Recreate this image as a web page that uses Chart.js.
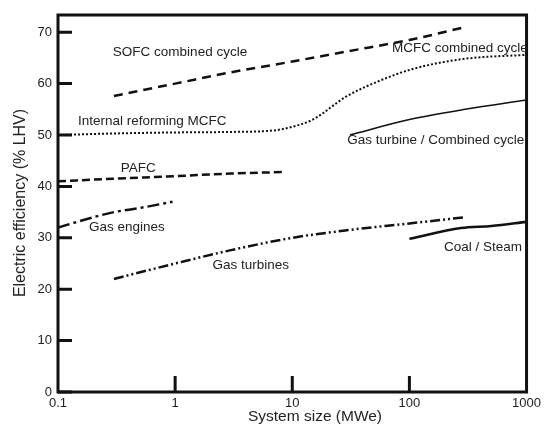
<!DOCTYPE html>
<html>
<head>
<meta charset="utf-8">
<script src="https://cdn.jsdelivr.net/npm/chart.js@4"></script>
<style>
  html, body { margin: 0; padding: 0; background: #fff; }
  #wrap { width: 545px; height: 425px; position: relative; }
</style>
</head>
<body>
<div id="wrap"><canvas id="chart"></canvas></div>
<script>
// ── Tick labels ──
const X_TICKS = [0.1, 1, 10, 100, 1000];
const Y_TICKS = [0, 10, 20, 30, 40, 50, 60, 70];

// ── Series (system size MWe → efficiency % LHV) ──
const SOFC_X = [0.3, 1, 3, 10, 30, 100, 300];
const SOFC_Y = [57.6, 60, 62.2, 64.3, 66.3, 68.5, 71];

const MCFC_X = [0.1, 0.3, 1, 3, 7, 10, 15, 29, 55, 105, 290, 1000];
const MCFC_Y = [50, 50.3, 50.5, 50.6, 50.9, 51.6, 53, 57.5, 60.5, 62.8, 64.8, 65.6];

const PAFC_X = [0.1, 0.3, 1, 3, 8.5];
const PAFC_Y = [41, 41.5, 42, 42.5, 42.8];

const GTCC_X = [31, 100, 300, 1000];
const GTCC_Y = [50, 53, 55, 56.8];

const ENG_X = [0.1, 0.2, 0.3, 0.5, 0.95];
const ENG_Y = [32, 34, 35, 35.8, 37];

const GT_X = [0.3, 1, 3, 10, 30, 100, 300];
const GT_Y = [22, 25, 27.6, 30, 31.5, 32.8, 34];

const COAL_X = [100, 275, 500, 1000];
const COAL_Y = [29.8, 31.9, 32.3, 33.1];

// ── Curve labels (anchor in data units, left aligned) ──
const LABEL_TEXT = ['SOFC combined cycle', 'MCFC combined cycle', 'Internal reforming MCFC', 'PAFC',
                    'Gas turbine / Combined cycle', 'Gas engines', 'Gas turbines', 'Coal / Steam'];
const LABEL_X = [0.294, 71, 0.148, 0.344, 29.4, 0.184, 2.08, 197];
const LABEL_Y = [66.1, 66.9, 52.7, 43.6, 49.0, 32.1, 24.7, 28.2];

const INK = '#111';
const FONT = '"Liberation Sans", Arial, sans-serif';

const pts = (xs, ys) => xs.map((x, i) => ({ x, y: ys[i] }));

function series(xs, ys, dash, width) {
  return {
    data: pts(xs, ys),
    showLine: true,
    borderColor: INK,
    borderWidth: width,
    borderDash: dash,
    pointRadius: 0,
    cubicInterpolationMode: 'monotone',
    fill: false,
  };
}

// ── Frame, inward ticks and text ──
const decorPlugin = {
  id: 'decor',
  afterDraw(chart) {
    const { ctx, chartArea: a, scales: { x, y } } = chart;
    ctx.save();
    ctx.strokeStyle = INK;
    ctx.lineWidth = 3;
    ctx.strokeRect(a.left, a.top, a.right - a.left, a.bottom - a.top);

    ctx.beginPath();
    Y_TICKS.forEach(v => {
      const py = y.getPixelForValue(v);
      ctx.moveTo(a.left, py);
      ctx.lineTo(a.left + 14, py);
    });
    X_TICKS.slice(1, -1).forEach(v => {
      const px = x.getPixelForValue(v);
      ctx.moveTo(px, a.bottom);
      ctx.lineTo(px, a.bottom - 16);
    });
    ctx.stroke();

    ctx.fillStyle = '#222';
    ctx.font = '13.5px ' + FONT;
    ctx.textAlign = 'left';
    ctx.textBaseline = 'middle';
    LABEL_TEXT.forEach((t, i) => {
      ctx.fillText(t, x.getPixelForValue(LABEL_X[i]), y.getPixelForValue(LABEL_Y[i]));
    });

    ctx.font = '15.5px ' + FONT;
    ctx.textAlign = 'center';
    ctx.fillText('System size (MWe)', 315, 417);
    ctx.font = '16px ' + FONT;
    ctx.translate(21, 203);
    ctx.rotate(-Math.PI / 2);
    ctx.fillText('Electric efficiency (% LHV)', 0, 0);
    ctx.restore();
  }
};

new Chart(document.getElementById('chart'), {
  type: 'scatter',
  data: {
    datasets: [
      series(SOFC_X, SOFC_Y, [9, 6], 2.5),
      series(MCFC_X, MCFC_Y, [2, 2], 2),
      series(PAFC_X, PAFC_Y, [8, 4], 2.5),
      series(GTCC_X, GTCC_Y, [], 1.6),
      series(ENG_X, ENG_Y, [12, 4, 3, 4], 2.5),
      series(GT_X, GT_Y, [10, 3, 2, 3, 2, 3], 2.5),
      series(COAL_X, COAL_Y, [], 2.6),
    ]
  },
  options: {
    responsive: true,
    maintainAspectRatio: false,
    animation: false,
    layout: { padding: { left: 0, top: 15, right: 17, bottom: 0 } },
    plugins: { legend: { display: false }, tooltip: { enabled: false } },
    scales: {
      x: {
        type: 'logarithmic',
        min: 0.1,
        max: 1000,
        afterBuildTicks: s => { s.ticks = X_TICKS.map(v => ({ value: v })); },
        afterFit: s => { s.height = 33; },
        grid: { display: false, drawTicks: false },
        border: { display: false },
        ticks: {
          color: '#222',
          padding: 4,
          maxRotation: 0,
          autoSkip: false,
          font: { size: 13, family: FONT },
          callback: v => String(v),
        }
      },
      y: {
        min: 0,
        max: 73.35,
        afterBuildTicks: s => { s.ticks = Y_TICKS.map(v => ({ value: v })); },
        afterFit: s => { s.width = 58; },
        grid: { display: false, drawTicks: false },
        border: { display: false },
        ticks: {
          color: '#222',
          padding: 6,
          font: { size: 13, family: FONT },
        }
      }
    }
  },
  plugins: [decorPlugin]
});
</script>
</body>
</html>
